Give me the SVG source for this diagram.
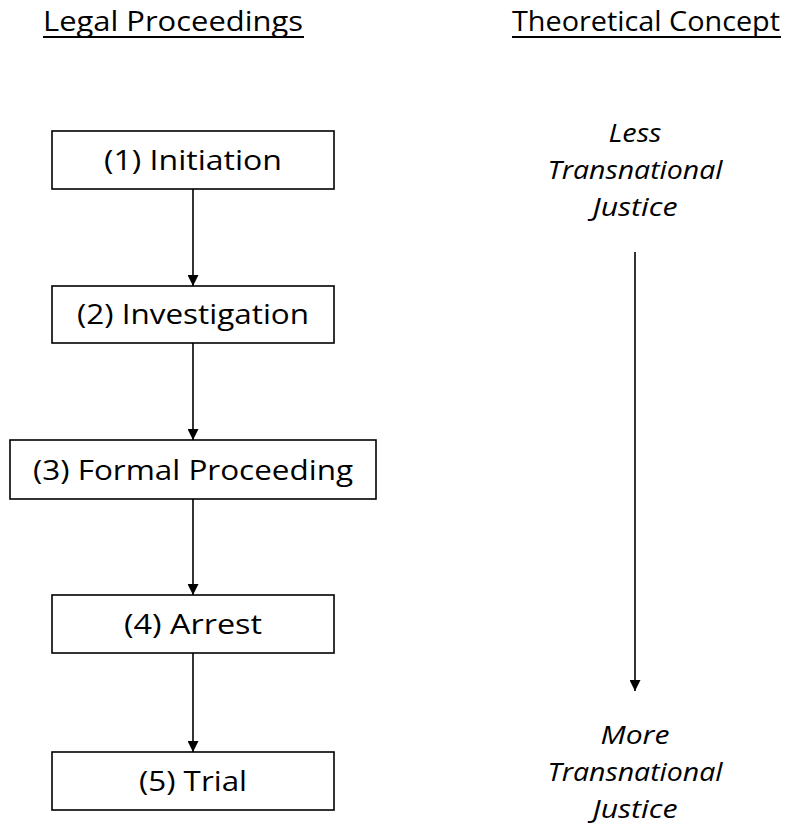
<svg xmlns="http://www.w3.org/2000/svg" width="787" height="829" viewBox="0 0 787 829">
<style>
text{font-family:"Open Sans","Noto Sans","Liberation Sans",sans-serif;fill:#000}
.head{font-size:28px}
.box{fill:#fff;stroke:#000;stroke-width:1.6}
.lbl{font-size:27px;text-anchor:middle}
.it{font-size:26px;font-style:italic;text-anchor:middle}
.conn{stroke:#000;stroke-width:1.6;fill:none}
.ul{stroke:#000;stroke-width:2}
</style>
<defs>
<marker id="ah" viewBox="0 0 10 10" refX="10" refY="5" markerWidth="11" markerHeight="11" markerUnits="userSpaceOnUse" orient="auto">
<path d="M0,0 L10,5 L0,10 Z" fill="#000"/>
</marker>
</defs>
<g id="heading-legal">
<text class="head" x="43" y="31" textLength="260" lengthAdjust="spacingAndGlyphs">Legal Proceedings</text>
<line class="ul" x1="43" y1="37" x2="304" y2="37"/>
</g>
<g id="heading-theory">
<text class="head" x="512" y="31" textLength="268" lengthAdjust="spacingAndGlyphs">Theoretical Concept</text>
<line class="ul" x1="512" y1="37" x2="781" y2="37"/>
</g>
<g id="n1">
<rect class="box" x="52" y="131" width="282" height="58"/>
<text class="lbl" x="193" y="170" textLength="178" lengthAdjust="spacingAndGlyphs">(1) Initiation</text>
</g>
<g id="n2">
<rect class="box" x="52" y="286" width="282" height="57"/>
<text class="lbl" x="193" y="324" textLength="232" lengthAdjust="spacingAndGlyphs">(2) Investigation</text>
</g>
<g id="n3">
<rect class="box" x="10" y="440" width="366" height="59"/>
<text class="lbl" x="193" y="480" textLength="320" lengthAdjust="spacingAndGlyphs">(3) Formal Proceeding</text>
</g>
<g id="n4">
<rect class="box" x="52" y="595" width="282" height="58"/>
<text class="lbl" x="193" y="634" textLength="138" lengthAdjust="spacingAndGlyphs">(4) Arrest</text>
</g>
<g id="n5">
<rect class="box" x="52" y="752" width="282" height="58"/>
<text class="lbl" x="193" y="791" textLength="108" lengthAdjust="spacingAndGlyphs">(5) Trial</text>
</g>
<g id="less">
<text class="it" x="635" y="142" textLength="53" lengthAdjust="spacingAndGlyphs">Less</text>
<text class="it" x="635" y="179" textLength="175" lengthAdjust="spacingAndGlyphs">Transnational</text>
<text class="it" x="635" y="216" textLength="85" lengthAdjust="spacingAndGlyphs">Justice</text>
</g>
<g id="more">
<text class="it" x="635" y="744" textLength="69" lengthAdjust="spacingAndGlyphs">More</text>
<text class="it" x="635" y="781" textLength="175" lengthAdjust="spacingAndGlyphs">Transnational</text>
<text class="it" x="635" y="818" textLength="85" lengthAdjust="spacingAndGlyphs">Justice</text>
</g>
<g id="connectors">
<line class="conn" x1="193" y1="189" x2="193" y2="286" marker-end="url(#ah)"/>
<line class="conn" x1="193" y1="343" x2="193" y2="440" marker-end="url(#ah)"/>
<line class="conn" x1="193" y1="499" x2="193" y2="595" marker-end="url(#ah)"/>
<line class="conn" x1="193" y1="653" x2="193" y2="752" marker-end="url(#ah)"/>
<line class="conn" x1="635" y1="252" x2="635" y2="691" marker-end="url(#ah)"/>
</g>
</svg>
